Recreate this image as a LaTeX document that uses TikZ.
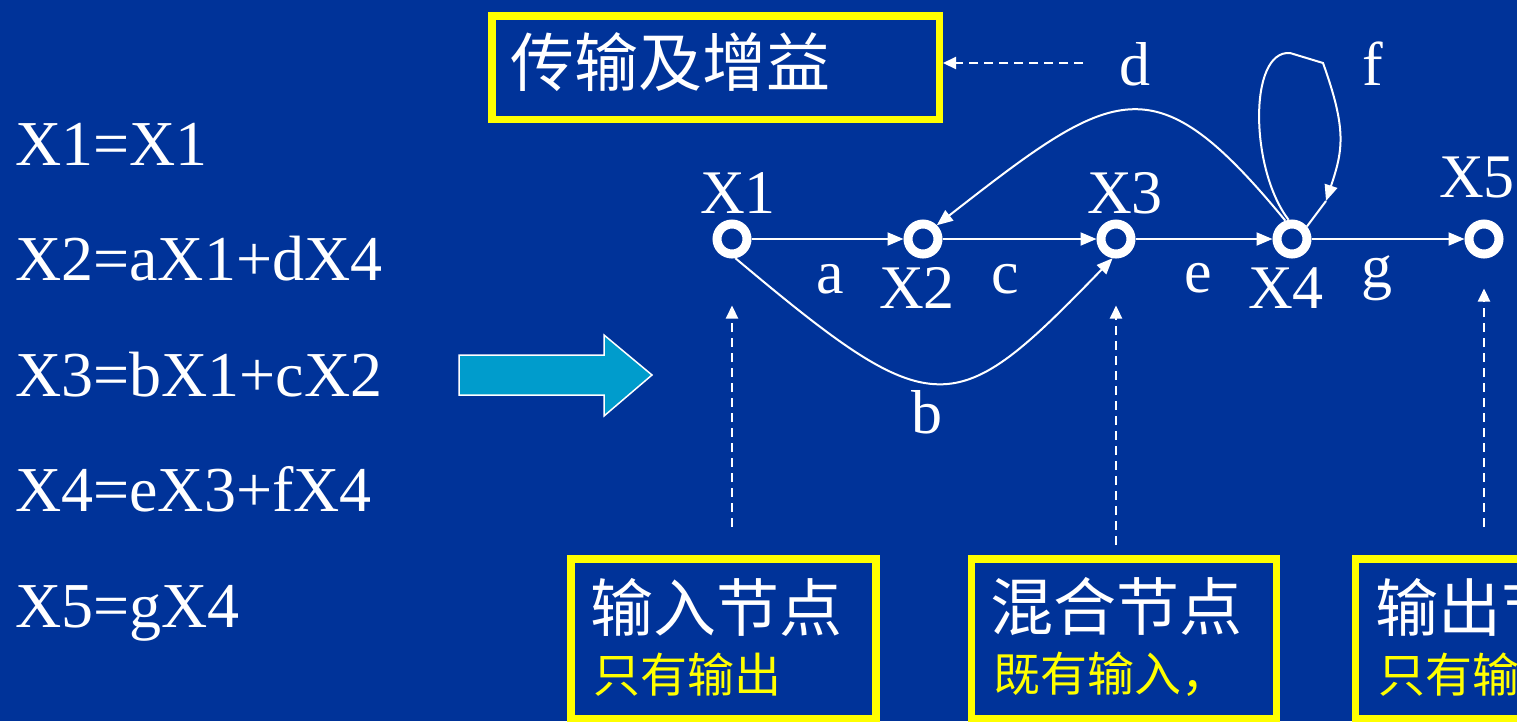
\documentclass[tikz,border=0pt]{standalone}
\usepackage{fontspec}
\setmainfont{Liberation Serif}
\newfontfamily\cjk{Noto Sans CJK SC}
\usetikzlibrary{arrows.meta}
\definecolor{bg}{RGB}{0,51,153}
\definecolor{arrowfill}{RGB}{0,156,204}
\definecolor{ylw}{RGB}{255,255,0}
\begin{document}
\begin{tikzpicture}[x=1pt,y=-1pt,
  lat/.style={text=white,font=\fontsize{62}{70}\selectfont,inner sep=0pt},
  eqn/.style={text=white,font=\fontsize{64}{70}\selectfont,inner sep=0pt},
  cjkt/.style={text=white,font=\cjk\fontsize{64}{70}\selectfont,inner sep=0pt},
  cjkb/.style={text=white,font=\cjk\fontsize{63}{70}\selectfont,inner sep=0pt},
  cjks/.style={text=ylw,font=\cjk\fontsize{47}{55}\selectfont,inner sep=0pt},
  ybox/.style={draw=ylw,line width=7.5pt,inner sep=0pt},
  sig/.style={circle,draw=white,line width=9pt,minimum size=30pt,inner sep=0pt},
  edge/.style={draw=white,line width=2pt,-{Triangle[length=16pt,width=13pt]}},
  plainedge/.style={draw=white,line width=2pt},
  dasharrow/.style={draw=white,line width=2.2pt,dash pattern=on 9pt off 6pt,-{Triangle[length=13pt,width=12pt]}}
]
\useasboundingbox (0,0) rectangle (1517,721);
\fill[bg] (0,0) rectangle (1517,721);
\clip (0,0) rectangle (1517,721);

% equations
\node[eqn,anchor=base west] (e1) at (15,165) {X1=X1};
\node[eqn,anchor=base west] (e2) at (15,280.5) {X2=aX1+dX4};
\node[eqn,anchor=base west] (e3) at (15,396) {X3=bX1+cX2};
\node[eqn,anchor=base west] (e4) at (15,511.5) {X4=eX3+fX4};
\node[eqn,anchor=base west] (e5) at (15,627) {X5=gX4};

% big arrow
\draw[fill=arrowfill,draw=white,line width=1.5pt]
  (459,355) -- (604,355) -- (604,335) -- (652,375) -- (604,416) -- (604,395) -- (459,395) -- cycle;

% title box
\node[ybox,minimum width=447.5pt,minimum height=103.5pt] (tb) at (715.5,67.5) {};
\node[cjkt,anchor=west] (tt) at (510,62) {传输及增益};
\coordinate (dstart) at (1083,63);
\draw[dasharrow] (dstart) -- (tb.east |- dstart);

% signal nodes
\node[sig] (n1) at (732,239) {};
\node[sig] (n2) at (923,239) {};
\node[sig] (n3) at (1116,239) {};
\node[sig] (n4) at (1292,239) {};
\node[sig] (n5) at (1484,239) {};

\node[lat,anchor=base] (l1) at (738,213) {X1};
\node[lat,anchor=base] (l2) at (917,308) {X2};
\node[lat,anchor=base] (l3) at (1125,213) {X3};
\node[lat,anchor=base] (l4) at (1286,308) {X4};
\node[lat,anchor=base] (l5) at (1477,197) {X5};

% edges
\draw[edge] (n1) -- (n2);
\draw[edge] (n2) -- (n3);
\draw[edge] (n3) -- (n4);
\draw[edge] (n4) -- (n5);
\draw[edge] (n1.-80) .. controls (936,427) and (954,422) .. (n3.-100);
\draw[edge] (n4.110) .. controls (1154,61) and (1116,85) .. (n2.45);
\coordinate (fa) at (1326,201);
\draw[edge] (n4.100) .. controls (1250,170) and (1248,50) .. (1290,53) -- (1323,63)
  .. controls (1347,130) and (1343,150) .. (fa);
\draw[plainedge] (fa) -- (n4.40);

% edge labels
\node[lat,anchor=base] (la) at (830,293) {a};
\node[lat,anchor=base] (lc) at (1005,293) {c};
\node[lat,anchor=base] (le) at (1198,292) {e};
\node[lat,anchor=base] (lg) at (1377,287) {g};
\node[lat,anchor=base] (lb) at (927,433) {b};
\node[lat,anchor=base] (ld) at (1135,85) {d};
\node[lat,anchor=base] (lf) at (1373,85) {f};

% dashed pointers
\coordinate (v1) at (732,527);
\coordinate (v3) at (1116,545);
\coordinate (v5) at (1484,527);
\draw[dasharrow,shorten >=47pt] (v1) -- (n1);
\draw[dasharrow,shorten >=47pt] (v3) -- (n3);
\draw[dasharrow,shorten >=30pt] (v5) -- (n5);

% bottom boxes
\node[ybox,minimum width=305pt,minimum height=160pt] (b1) at (723.5,639) {};
\node[ybox,minimum width=305pt,minimum height=160pt] (b2) at (1124,639) {};
\node[ybox,minimum width=305pt,minimum height=160pt] (b3) at (1508,639) {};
\node[cjkb,anchor=west] (t1) at (590,607) {输入节点};
\node[cjks,anchor=west] (s1) at (593,674.5) {只有输出};
\node[cjkb,anchor=west] (t2) at (990,607) {混合节点};
\node[cjks,anchor=west] (s2) at (993,674.5) {既有输入，};
\node[cjkb,anchor=west] (t3) at (1375,607) {输出节点};
\node[cjks,anchor=west] (s3) at (1378,674.5) {只有输入};
\end{tikzpicture}
\end{document}
